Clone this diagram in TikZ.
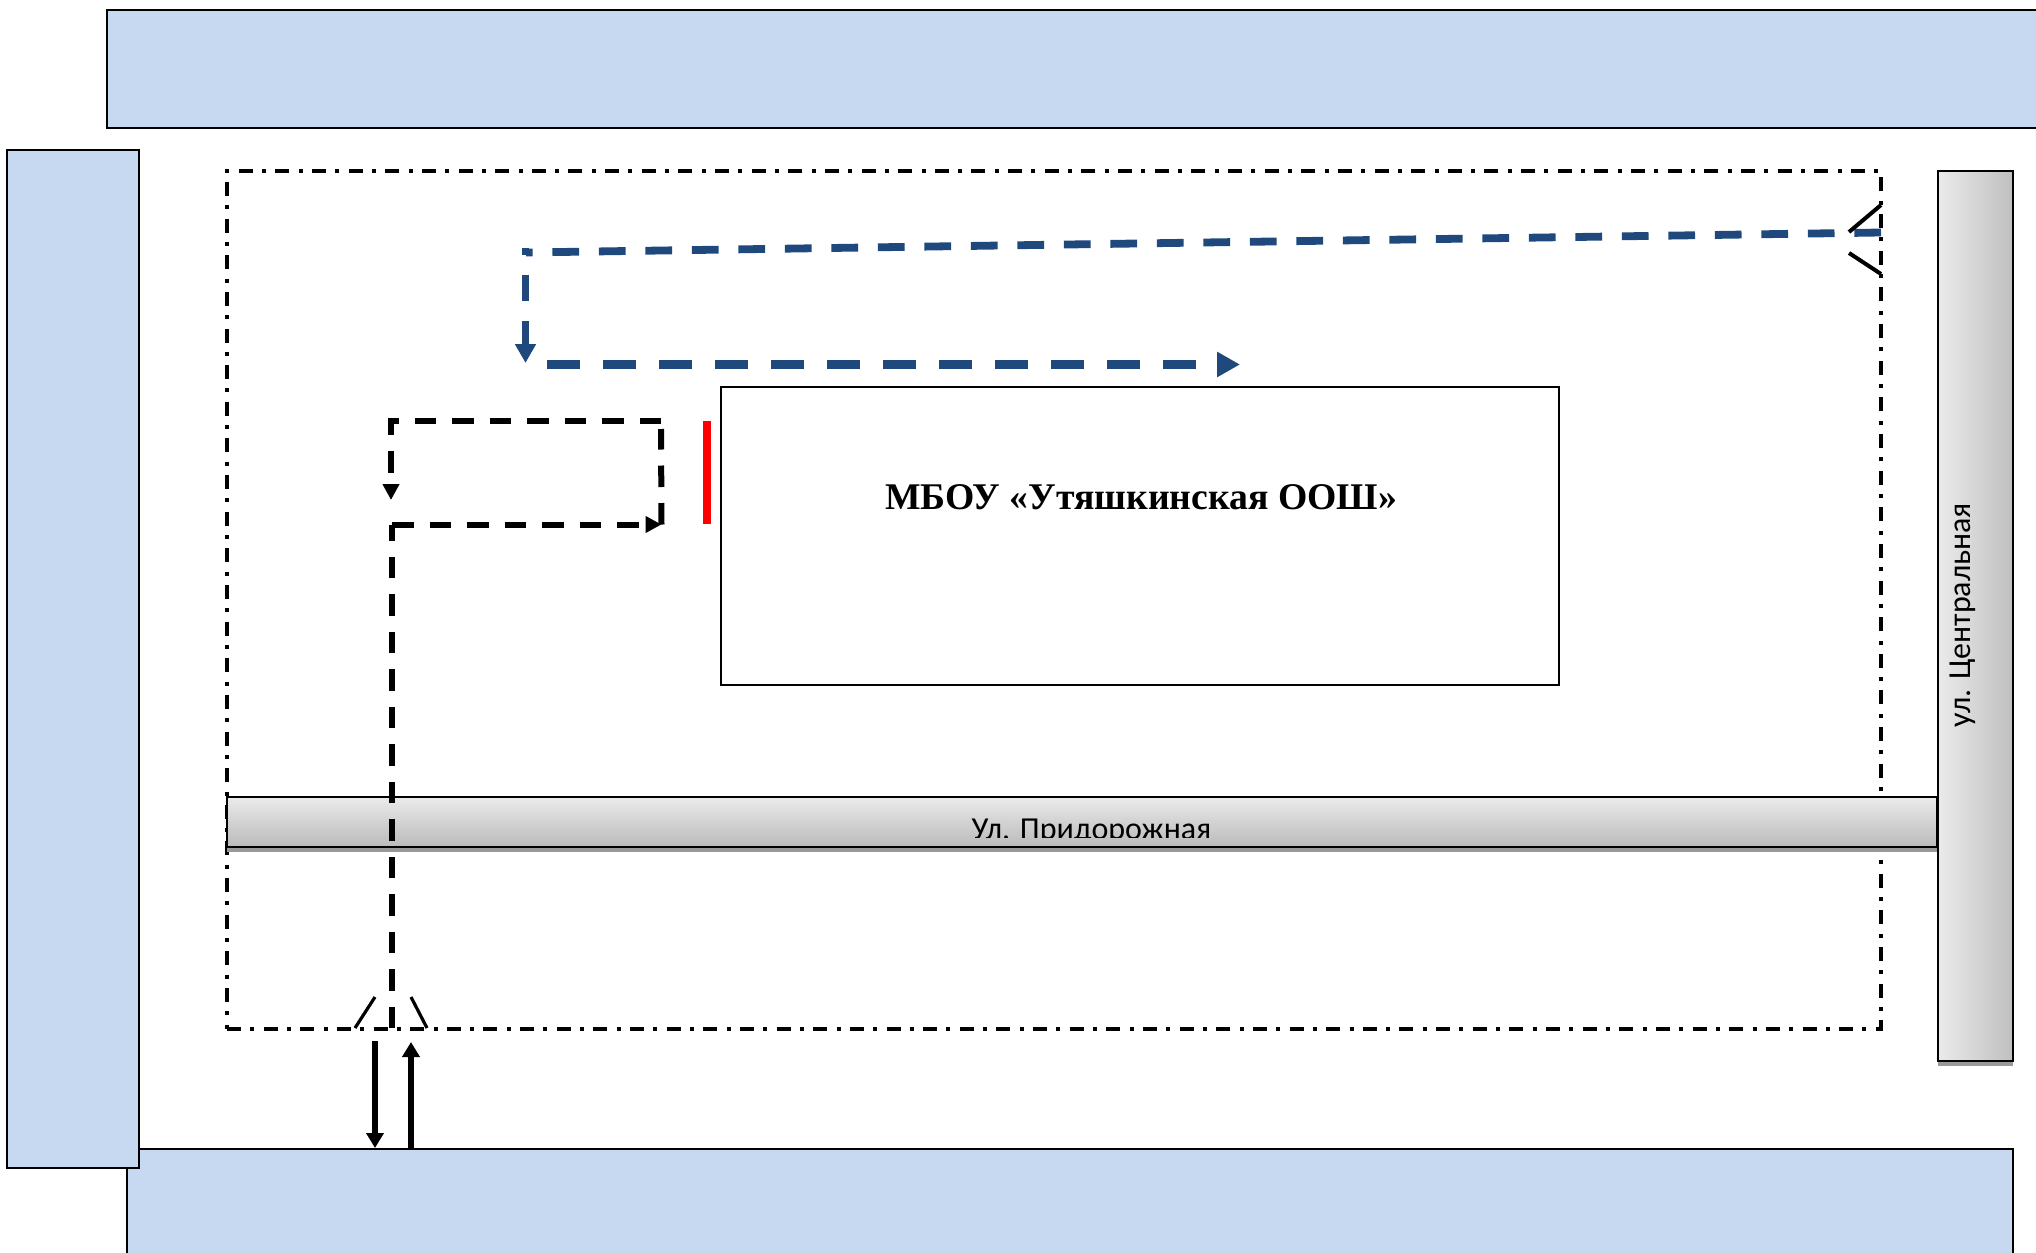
\documentclass[tikz,border=0pt]{standalone}
\usepackage{fontspec}
\setmainfont{Liberation Serif}
\newfontfamily\roadfont{Carlito}
\usetikzlibrary{arrows.meta}
\definecolor{blockblue}{HTML}{C6D9F1}
\definecolor{routeblue}{HTML}{1F497D}
\tikzset{
  block/.style={draw=black,line width=1pt,fill=blockblue,inner sep=0,outer sep=0,anchor=north west},
  hroad/.style={draw=black,line width=1pt,top color=black!8,bottom color=black!27,inner sep=0,outer sep=0,anchor=north west},
  vroad/.style={draw=black,line width=1pt,left color=black!8,right color=black!25,inner sep=0,outer sep=0,anchor=north west},
  shadowbar/.style={fill=black!40,draw=none,inner sep=0,outer sep=0,anchor=north west},
  school/.style={draw=black,line width=1pt,fill=white,inner sep=0,outer sep=0,anchor=north west},
  boundary/.style={draw=black,line width=1.8pt,dash pattern=on 7pt off 4.65pt on 2pt off 4.67pt},
  blackroute/.style={draw=black,line width=3pt,dash pattern=on 10.75pt off 8pt},
  blackhead/.style={-{Triangle[length=8pt,width=8pt]}},
  bluethin/.style={draw=routeblue,line width=3.9pt,dash pattern=on 13.35pt off 9.9pt},
  bluewide/.style={draw=routeblue,line width=4.2pt,dash pattern=on 16.5pt off 11.5pt},
  gate/.style={draw=black,line width=2pt},
  entry/.style={draw=black,line width=3pt,-{Triangle[length=7.5pt,width=8.5pt]}}
}
\begin{document}
\begin{tikzpicture}[x=0.5pt,y=-0.5pt]
\useasboundingbox (0,0) rectangle (2036,1253);
% blocks
\node[block,minimum width=975pt,minimum height=59pt] (topblock) at (107,10) {};
\node[block,minimum width=943pt,minimum height=70pt] (bottomblock) at (127,1149) {};
\node[block,minimum width=66pt,minimum height=509pt] (leftblock) at (7,149.5) {};
% boundary
\coordinate (bsw) at (227,1029);
\coordinate (bse) at (1881,1029);
\coordinate (bne) at (1881,171);
\coordinate (bnw) at (227,171);
\draw[boundary] (bsw) -- (bse) -- (bne) -- (bnw) -- cycle;
% roads
\node[shadowbar,minimum width=855pt,minimum height=4pt] at (227,844) {};
\node[hroad,minimum width=855pt,minimum height=25pt] (hstreet) at (227,797) {};
\begin{scope}
\clip (227,800) rectangle (1937,837);
\node[font=\roadfont\fontsize{16}{16}\selectfont,anchor=base] (hlabel) at (1091.5,839) {Ул. Придорожная};
\end{scope}
\node[shadowbar,minimum width=37.5pt,minimum height=4pt] at (1938,1058) {};
\node[vroad,minimum width=37.5pt,minimum height=445pt] (vstreet) at (1938,171) {};
\node[font=\roadfont\fontsize{16}{16}\selectfont,rotate=90] (vlabel) at (1963,615) {ул. Центральная};
% school
\node[school,minimum width=419pt,minimum height=149pt] (schoolbox) at (721,387) {};
\node[font=\bfseries\fontsize{18.85}{19}\selectfont] (schoollabel) at (1141,497.5) {МБОУ «Утяшкинская ООШ»};
\coordinate (rt) at (707,421);
\coordinate (rb) at (707,524);
\draw[red,line width=4pt] (rt) -- (rb);
% black route
\coordinate (k1) at (392,1028);
\coordinate (k2) at (392,524.5);
\coordinate (k3) at (661.5,524.5);
\coordinate (k4) at (661,429);
\coordinate (k5) at (661,421);
\coordinate (k6) at (391,421);
\coordinate (k7) at (391,500);
\draw[blackroute] (k1) -- (k2);
\draw[blackroute,blackhead] (k2) -- (k3);
\draw[blackroute] (k3) -- (k4);
\draw[blackroute,blackhead] (k5) -- (k6) -- (k7);
% blue route
\coordinate (u1) at (1881,232.5);
\coordinate (u2) at (526,252.5);
\coordinate (u3) at (525.5,248);
\coordinate (u4) at (525.5,363);
\coordinate (u5) at (547,364.5);
\coordinate (u6) at (1240,364.5);
\draw[bluethin] (u1) -- (u2);
\draw[bluethin,dash phase=10pt,-{Triangle[length=9.5pt,width=10pt]}] (u3) -- (u4);
\draw[bluewide,-{Triangle[length=11.5pt,width=12pt]}] (u5) -- (u6);
% gates
\coordinate (g1) at (1849,232);
\coordinate (g2) at (1881,205);
\coordinate (g3) at (1849,253);
\coordinate (g4) at (1881,274);
\draw[gate] (g1) -- (g2);
\draw[gate] (g3) -- (g4);
\coordinate (g5) at (355,1028);
\coordinate (g6) at (375,997);
\coordinate (g7) at (411,997);
\coordinate (g8) at (427,1028);
\draw[gate,line width=1.6pt] (g5) -- (g6);
\draw[gate,line width=1.6pt] (g7) -- (g8);
% entry arrows
\coordinate (e1) at (375,1041);
\coordinate (e2) at (375,1148);
\coordinate (e3) at (411,1148);
\coordinate (e4) at (411,1042);
\draw[entry] (e1) -- (e2);
\draw[entry] (e3) -- (e4);
\end{tikzpicture}
\end{document}
